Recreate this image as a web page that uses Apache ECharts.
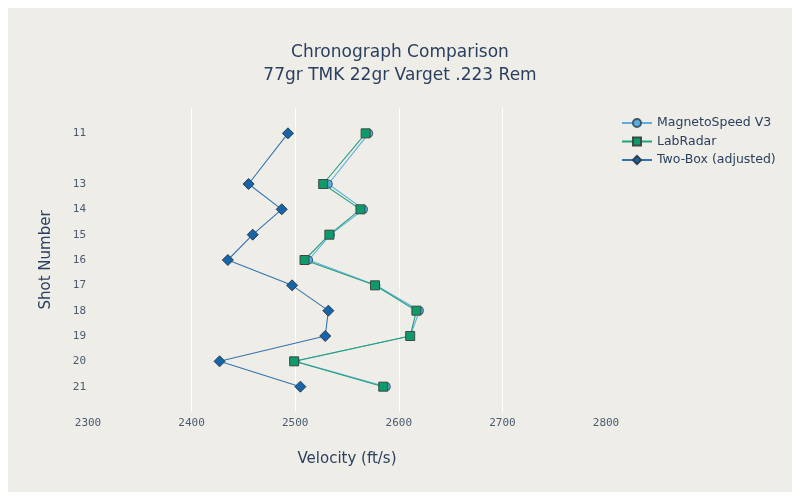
<!DOCTYPE html>
<html>
<head>
<meta charset="utf-8">
<script src="https://cdn.jsdelivr.net/npm/echarts@6/dist/echarts.min.js"></script>
<style>
  html, body { margin: 0; padding: 0; background: #ffffff; }
  #chart { position: absolute; left: 8px; top: 8px; width: 784px; height: 484px; }
</style>
</head>
<body>
<div id="chart"></div>
<script>
// Shot numbers (shot 12 absent)
const shots = [11, 13, 14, 15, 16, 17, 18, 19, 20, 21];
const magnetoSpeed = [2571, 2532, 2566, 2534, 2513, 2578, 2620, 2611, 2500, 2588];
const labRadar     = [2568, 2527, 2563, 2533, 2509, 2577, 2617, 2611, 2499, 2585];
const twoBox       = [2493, 2455, 2487, 2459, 2435, 2497, 2532, 2529, 2427, 2505];
const xTicks = [2300, 2400, 2500, 2600, 2700, 2800];

const pair = vals => vals.map((v, i) => [v, shots[i]]);
const txt = '#2a3f5f';
const tick = '#4b5b70';

const chart = echarts.init(document.getElementById('chart'), null, { renderer: 'canvas' });
chart.setOption({
  backgroundColor: '#eeede7',
  animation: false,
  title: {
    text: 'Chronograph Comparison\n77gr TMK 22gr Varget .223 Rem',
    left: 'center',
    top: 28,
    textStyle: { fontFamily: 'DejaVu Sans', fontSize: 17, fontWeight: 'normal', color: txt, lineHeight: 23 }
  },
  legend: {
    orient: 'vertical',
    left: 608,
    top: 103.5,
    itemWidth: 30,
    itemHeight: 10,
    itemGap: 5.5,
    textStyle: { fontFamily: 'DejaVu Sans', fontSize: 12.5, color: txt },
    data: ['MagnetoSpeed V3', 'LabRadar', 'Two-Box (adjusted)']
  },
  grid: { left: 80, top: 100, width: 518, height: 304, containLabel: false },
  xAxis: {
    type: 'value',
    min: xTicks[0],
    max: xTicks[xTicks.length - 1],
    interval: 100,
    name: 'Velocity (ft/s)',
    nameLocation: 'middle',
    nameGap: 40,
    nameTextStyle: { fontFamily: 'DejaVu Sans', fontSize: 15, color: txt },
    axisLine: { show: false },
    axisTick: { show: false },
    axisLabel: { fontFamily: 'DejaVu Sans Mono', fontSize: 11, color: tick, margin: 6, formatter: v => String(v) },
    splitLine: { show: true, showMinLine: false, showMaxLine: false, lineStyle: { color: '#ffffff', width: 1 } }
  },
  yAxis: {
    type: 'value',
    inverse: true,
    min: 10,
    max: 22,
    interval: 1,
    name: 'Shot Number',
    nameLocation: 'middle',
    nameGap: 34,
    nameRotate: 90,
    nameTextStyle: { fontFamily: 'DejaVu Sans', fontSize: 15, color: txt },
    axisLine: { show: false },
    axisTick: { show: false },
    splitLine: { show: false },
    axisLabel: {
      fontFamily: 'DejaVu Sans Mono', fontSize: 11, color: tick, margin: 2,
      formatter: v => shots.indexOf(v) >= 0 ? String(v) : ''
    }
  },
  series: [
    {
      name: 'MagnetoSpeed V3', type: 'line', data: pair(magnetoSpeed),
      symbol: 'circle', symbolSize: 8,
      lineStyle: { color: '#5aaee0', width: 1.1 },
      itemStyle: { color: '#5aaee0', borderColor: '#3e5a6a', borderWidth: 1 }
    },
    {
      name: 'LabRadar', type: 'line', data: pair(labRadar),
      symbol: 'rect', symbolSize: 9,
      lineStyle: { color: '#22a07a', width: 1.1 },
      itemStyle: { color: '#0f9a6a', borderColor: '#3a4a48', borderWidth: 1 }
    },
    {
      name: 'Two-Box (adjusted)', type: 'line', data: pair(twoBox),
      symbol: 'diamond', symbolSize: 11,
      lineStyle: { color: '#3473b0', width: 1.1 },
      itemStyle: { color: '#1565a8', borderColor: '#2c3e50', borderWidth: 1 }
    }
  ]
});
</script>
</body>
</html>
